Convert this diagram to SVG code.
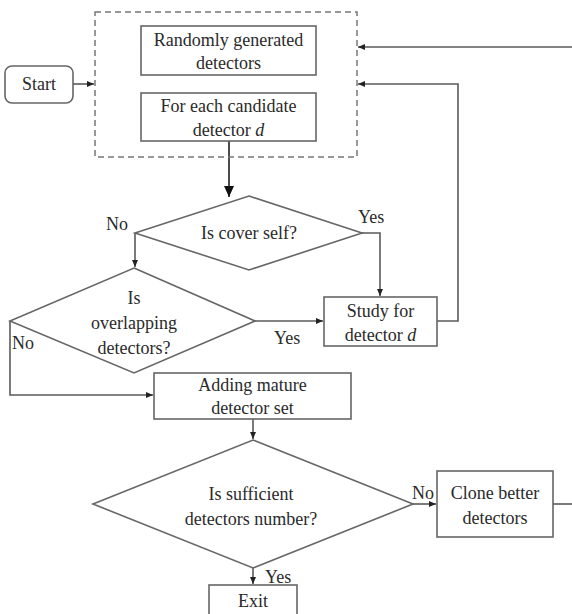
<svg xmlns="http://www.w3.org/2000/svg" width="572" height="614" viewBox="0 0 572 614">
<defs>
<marker id="ah" markerWidth="8" markerHeight="8" refX="7" refY="4" orient="auto" markerUnits="userSpaceOnUse">
<path d="M0,1 L7,4 L0,7 Z" fill="#222"/>
</marker>
<marker id="ahb" markerWidth="12" markerHeight="12" refX="11" refY="6" orient="auto" markerUnits="userSpaceOnUse">
<path d="M0,1 L11,6 L0,11 Z" fill="#111"/>
</marker>
<style>
.box{fill:#fff;stroke:#666;stroke-width:1.6}
.dash{fill:none;stroke:#777;stroke-width:1.5;stroke-dasharray:6,4}
.ln{fill:none;stroke:#5a5a5a;stroke-width:1.6}
.t{font-family:"Liberation Serif","DejaVu Serif",serif;font-size:18px;fill:#2a2a2a;text-anchor:middle}
.l{font-family:"Liberation Serif","DejaVu Serif",serif;font-size:18px;fill:#2a2a2a}
</style>
</defs>
<rect width="572" height="614" fill="#fff"/>
<g id="connectors">
<line class="ln" x1="73" y1="84" x2="94" y2="84" marker-end="url(#ah)"/>
<line x1="229" y1="141" x2="229" y2="197" stroke="#111" stroke-width="1.5" marker-end="url(#ahb)"/>
<polyline class="ln" points="135,233 135,267" marker-end="url(#ah)"/>
<polyline class="ln" points="362,233 380,233 380,296" marker-end="url(#ah)"/>
<line class="ln" x1="255" y1="321" x2="323" y2="321" marker-end="url(#ah)"/>
<polyline class="ln" points="437,321 458,321 458,84 358,84" marker-end="url(#ah)"/>
<polyline class="ln" points="10,321 10,395 153,395" marker-end="url(#ah)"/>
<line class="ln" x1="253" y1="419" x2="253" y2="439" marker-end="url(#ah)"/>
<line class="ln" x1="413" y1="504" x2="436" y2="504" marker-end="url(#ah)"/>
<line class="ln" x1="553" y1="504" x2="572" y2="504"/>
<line class="ln" x1="572" y1="47" x2="358" y2="47" marker-end="url(#ah)"/>
<line class="ln" x1="253" y1="568" x2="253" y2="584" marker-end="url(#ah)"/>
<text class="l" x="106" y="230">No</text>
<text class="l" x="358" y="223">Yes</text>
<text class="l" x="274" y="344">Yes</text>
<text class="l" x="12" y="349">No</text>
<text class="l" x="412" y="499">No</text>
<text class="l" x="265" y="583">Yes</text>
</g>
<g id="start">
<rect class="box" x="5" y="66" width="68" height="37" rx="7"/>
<text class="t" x="39" y="90">Start</text>
</g>
<g id="init-group">
<rect class="dash" x="95" y="12" width="262" height="145"/>
</g>
<g id="random">
<rect class="box" x="141" y="26" width="175" height="49"/>
<text class="t" x="228.5" y="46">Randomly generated</text>
<text class="t" x="228.5" y="69">detectors</text>
</g>
<g id="foreach">
<rect class="box" x="141" y="93" width="175" height="48"/>
<text class="t" x="228.5" y="112">For each candidate</text>
<text class="t" x="228.5" y="136">detector <tspan font-style="italic">d</tspan></text>
</g>
<g id="cover-self">
<polygon class="box" points="249,196 362,233 249,270 135,233"/>
<text class="t" x="249" y="239">Is cover self?</text>
</g>
<g id="overlap">
<polygon class="box" points="134,268 255,321 134,373 10,321"/>
<text class="t" x="134" y="304">Is</text>
<text class="t" x="134" y="329">overlapping</text>
<text class="t" x="134" y="354">detectors?</text>
</g>
<g id="study">
<rect class="box" x="324" y="297" width="113" height="49"/>
<text class="t" x="380.5" y="317">Study for</text>
<text class="t" x="380.5" y="341">detector <tspan font-style="italic">d</tspan></text>
</g>
<g id="adding">
<rect class="box" x="154" y="373" width="197" height="46"/>
<text class="t" x="252.5" y="391">Adding mature</text>
<text class="t" x="252.5" y="414">detector set</text>
</g>
<g id="sufficient">
<polygon class="box" points="253,440 413,504 253,568 93,504"/>
<text class="t" x="251" y="500">Is sufficient</text>
<text class="t" x="251" y="525">detectors number?</text>
</g>
<g id="clone">
<rect class="box" x="437" y="471" width="116" height="66"/>
<text class="t" x="495" y="499">Clone better</text>
<text class="t" x="495" y="524">detectors</text>
</g>
<g id="exit">
<rect class="box" x="209" y="585" width="88" height="35"/>
<text class="t" x="253" y="607">Exit</text>
</g>
</svg>
